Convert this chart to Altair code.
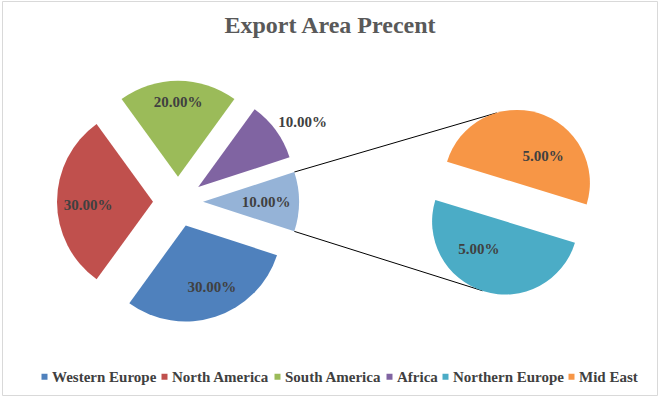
import math
import pandas as pd
import altair as alt

# ---------------- data ----------------
regions = ["Western Europe", "North America", "South America", "Africa",
           "Northern Europe", "Mid East"]
shares = [30, 30, 20, 10, 5, 5]  # percent
region_colors = ["#4F81BD", "#C0504D", "#9BBB59", "#8064A2", "#4BACC6", "#F79646"]
other_name = "Other"
other_color = "#95B3D7"
secondary_members = ["Mid East", "Northern Europe"]          # clockwise in the small pie
main_order = ["South America", "Africa", other_name, "Western Europe", "North America"]
title_text = "Export Area Precent"

# ---------------- layout (pixels of the 660x398 picture) ----------------
W, H = 660, 398
PAD = {"left": 2, "top": 1, "right": 3, "bottom": 3}
VIEW_W = W - PAD["left"] - PAD["right"]
VIEW_H = H - PAD["top"] - PAD["bottom"]

MAIN_C, MAIN_R, MAIN_EXPLODE, MAIN_START = (178.0, 201.7), 96, 25, 324.0
SEC_C, SEC_R, SEC_EXPLODE, SEC_START = (511.0, 202.2), 73, 20, 287.0
MAIN_LABEL_DIST = {"South America": 75, "Africa": 123, "Western Europe": 67, other_name: 63}
MAIN_LABEL_ROT = {"Africa": 4, "Western Europe": -5, "North America": -3}
MAIN_LABEL_DEFAULT = 65
SEC_LABEL_DIST, SEC_LABEL_ROT = 38, 27
CONNECT_ANGLES = {"Mid East": 344.0, "Northern Europe": 198.0}
FONT = "Liberation Serif"
TEXT_COLOR = "#404040"

share_of = dict(zip(regions, shares))
share_of[other_name] = sum(share_of[m] for m in secondary_members)


def pie_rows(names, center, explode, start_deg, dist_of, rot_of):
    total = sum(share_of[n] for n in names)
    rows, cum = [], 0.0
    for n in names:
        v = share_of[n]
        t0 = start_deg + 360.0 * cum / total
        t1 = start_deg + 360.0 * (cum + v) / total
        mid = math.radians((t0 + t1) / 2)
        px = center[0] + explode * math.sin(mid)
        py = center[1] - explode * math.cos(mid)
        d = dist_of(n)
        la = mid + math.radians(rot_of(n))
        rows.append({
            "name": n, "share": v, "t0": t0, "t1": t1,
            "x": px, "y": py,
            "lx": px + d * math.sin(la), "ly": py - d * math.cos(la),
            "label": f"{v:.2f}%",
        })
        cum += v
    return pd.DataFrame(rows)


main_df = pie_rows(main_order, MAIN_C, MAIN_EXPLODE, MAIN_START,
                   lambda n: MAIN_LABEL_DIST.get(n, MAIN_LABEL_DEFAULT),
                   lambda n: MAIN_LABEL_ROT.get(n, 0))
sec_df = pie_rows(secondary_members, SEC_C, SEC_EXPLODE, SEC_START,
                  lambda n: SEC_LABEL_DIST, lambda n: SEC_LABEL_ROT)

# connector lines: outer corners of the "Other" slice to the small pie
o = main_df[main_df["name"] == other_name].iloc[0]
line_rows = []
for edge, member in ((o["t0"], "Mid East"), (o["t1"], "Northern Europe")):
    a = math.radians(edge)
    s = sec_df[sec_df["name"] == member].iloc[0]
    b = math.radians(CONNECT_ANGLES[member])
    line_rows.append({
        "x": o["x"] + MAIN_R * math.sin(a), "y": o["y"] - MAIN_R * math.cos(a),
        "x2": s["x"] + SEC_R * math.sin(b), "y2": s["y"] - SEC_R * math.cos(b),
    })
lines_df = pd.DataFrame(line_rows)

# ---------------- scales ----------------
xs = alt.Scale(domain=[PAD["left"], PAD["left"] + VIEW_W], range=[0, VIEW_W], zero=False, nice=False)
ys = alt.Scale(domain=[PAD["top"], PAD["top"] + VIEW_H], range=[0, VIEW_H], zero=False, nice=False)
ts = alt.Scale(domain=[0, 720], range=[0, 4 * math.pi], zero=False, nice=False)
cs = alt.Scale(domain=regions + [other_name], range=region_colors + [other_color])

legend = alt.Legend(
    title=None, orient="none", legendX=35, legendY=368, direction="horizontal",
    values=regions, symbolType="square", symbolSize=36, symbolStrokeWidth=0,
    labelFont=FONT, labelFontSize=15, labelFontWeight="bold", labelColor=TEXT_COLOR,
    labelOffset=0, columnPadding=-16, padding=0, labelLimit=0,
)


def arcs(df, radius, show_legend):
    return alt.Chart(df).mark_arc(radius=radius).encode(
        x=alt.X("x:Q", scale=xs, axis=None),
        y=alt.Y("y:Q", scale=ys, axis=None),
        theta=alt.Theta("t0:Q", scale=ts, stack=None),
        theta2="t1:Q",
        color=alt.Color("name:N", scale=cs, legend=legend if show_legend else None),
    )


def labels(df):
    return alt.Chart(df).mark_text(
        font=FONT, fontSize=15, fontWeight="bold", color=TEXT_COLOR,
        align="center", baseline="middle",
    ).encode(
        x=alt.X("lx:Q", scale=xs, axis=None),
        y=alt.Y("ly:Q", scale=ys, axis=None),
        text="label:N",
    )


connectors = alt.Chart(lines_df).mark_rule(color="#000000", strokeWidth=1).encode(
    x=alt.X("x:Q", scale=xs, axis=None),
    y=alt.Y("y:Q", scale=ys, axis=None),
    x2="x2:Q",
    y2="y2:Q",
)

title = alt.Chart(pd.DataFrame({"t": [title_text]})).mark_text(
    font=FONT, fontSize=24, fontWeight="bold", color="#595959",
    align="center", baseline="alphabetic",
).encode(x=alt.value(W / 2 - PAD["left"]), y=alt.value(33 - PAD["top"]), text="t:N")

chart = alt.layer(
    connectors,
    arcs(main_df, MAIN_R, True),
    arcs(sec_df, SEC_R, False),
    labels(main_df),
    labels(sec_df),
    title,
).properties(
    width=VIEW_W, height=VIEW_H, padding=PAD, autosize="none", background="white",
).configure_view(stroke="#D9D9D9", strokeWidth=1)

chart.save("out.html", embed_options={"renderer": "svg", "actions": False})
